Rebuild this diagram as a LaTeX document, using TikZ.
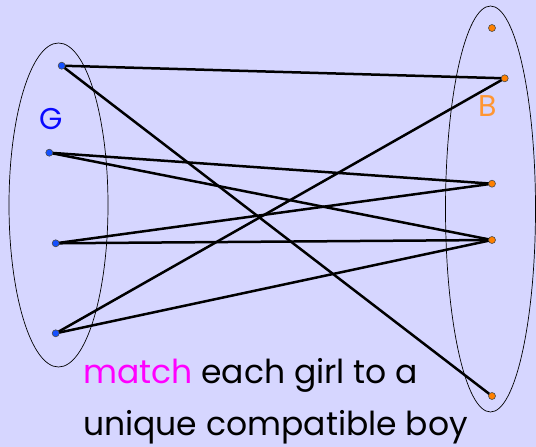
\documentclass[tikz,border=0pt]{standalone}
\usepackage{fontspec}
\setmainfont{Poppins}
\definecolor{bg}{RGB}{214,214,255}
\definecolor{gdot}{RGB}{20,80,255}
\definecolor{bdot}{RGB}{255,128,0}
\definecolor{glab}{RGB}{10,10,255}
\definecolor{blab}{RGB}{255,150,50}
\definecolor{mag}{RGB}{255,0,255}
\begin{document}
\begin{tikzpicture}[x=1pt,y=-1pt,
  girl/.style={circle,fill=gdot,draw=black!70,line width=0.6pt,inner sep=0pt,minimum size=7pt},
  boy/.style={circle,fill=bdot,draw=black!70,line width=0.6pt,inner sep=0pt,minimum size=7pt},
  edge/.style={line width=2.5pt,black},
  set/.style={draw=black,line width=0.7pt},
  lab/.style={font=\fontsize{30}{34}\selectfont}]
\fill[bg] (0,0) rectangle (536,447);
\useasboundingbox (0,0) rectangle (536,447);
\draw[set] (58.5,205) ellipse [x radius=49.5,y radius=162];
\draw[set] (490.5,209) ellipse [x radius=45,y radius=203];
\coordinate (g1) at (61.7,65.7);
\coordinate (g2) at (49.3,152.7);
\coordinate (g3) at (55.7,243.3);
\coordinate (g4) at (55.7,333.3);
\coordinate (b0) at (492,28);
\coordinate (b1) at (504.7,78.3);
\coordinate (b2) at (492,183.7);
\coordinate (b3) at (492,240);
\coordinate (b4) at (492,396);
\draw[edge] (g1) -- (b1);
\draw[edge] (g1) -- (b4);
\draw[edge] (g2) -- (b2);
\draw[edge] (g2) -- (b3);
\draw[edge] (g3) -- (b2);
\draw[edge] (g3) -- (b3);
\draw[edge] (g4) -- (b1);
\draw[edge] (g4) -- (b3);
\foreach \g in {g1,g2,g3,g4} \node[girl] at (\g) {};
\foreach \b in {b0,b1,b2,b3,b4} \node[boy] at (\b) {};
\node[lab,text=glab] (G) at (51,119) {G};
\node[lab,text=blab] (B) at (488,106) {B};
\node[anchor=base west,font=\fontsize{33}{38}\selectfont,inner sep=0pt] (l1) at (83,383) {\textcolor{mag}{match} each girl to a};
\node[anchor=base west,font=\fontsize{33}{38}\selectfont,inner sep=0pt] (l2) at (83,435) {unique compatible boy};
\end{tikzpicture}
\end{document}
